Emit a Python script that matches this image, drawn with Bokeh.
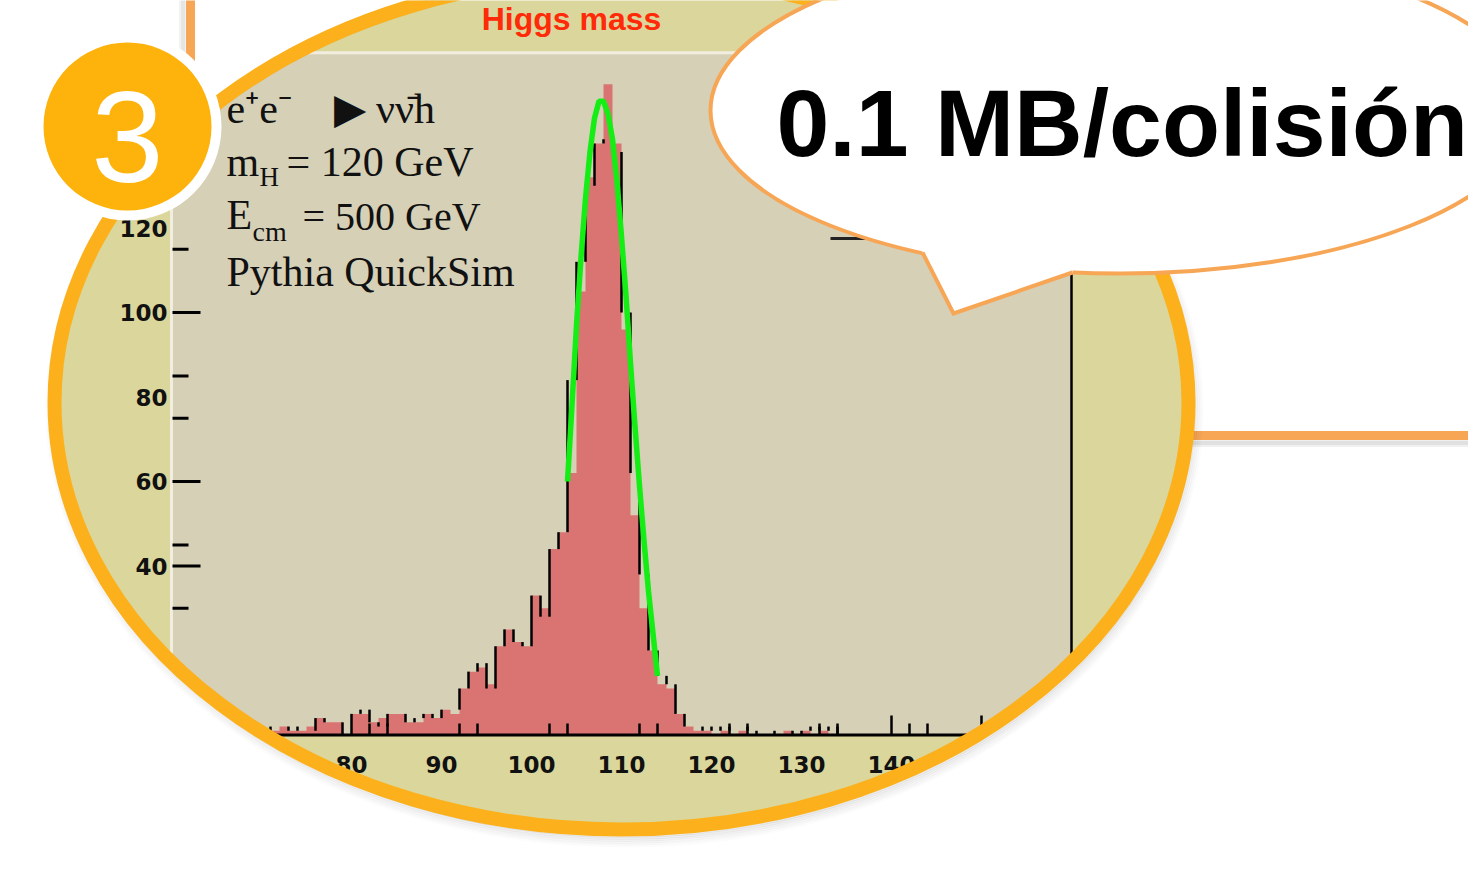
import numpy as np
from bokeh.plotting import figure
from bokeh.models import Range1d
from bokeh.core.properties import value
from bokeh.embed import file_html
from bokeh.resources import INLINE

# ---------------- data ----------------
bin_low = list(range(60, 160))          # 1 GeV bins, lower edges
red_counts = [0, 0, 1, 0, 1, 0, 1, 1, 0, 1,
              1, 1, 2, 1, 1, 2, 4, 3, 3, 0,
              5, 5, 3, 4, 5, 5, 3, 3, 5, 4,
              6, 5, 11, 15, 16, 12, 21, 25, 22, 21,
              33, 30, 44, 48, 62, 105, 132, 140, 154, 140,
              96, 52, 30, 20, 12, 11, 5, 2, 1, 1,
              0, 1, 0, 1, 0, 0, 0, 0, 1, 0,
              1, 0, 1, 0, 0, 0, 0, 0, 0, 0,
              0, 0, 0, 0, 0, 0, 0, 0, 0, 0,
              0, 0, 0, 0, 0, 0, 0, 0, 0, 0]
black_counts = [0, 1, 0, 1, 0, 1, 0, 1, 1, 0,
                2, 1, 1, 2, 1, 1, 4, 3, 3, 0,
                5, 6, 3, 2, 5, 5, 3, 4, 5, 4,
                6, 6, 11, 15, 17, 11, 21, 25, 22, 21,
                33, 28, 44, 48, 84, 112, 130, 140, 141, 138,
                100, 62, 38, 20, 14, 12, 5, 2, 2, 1,
                2, 1, 2, 2, 1, 0, 0, 1, 1, 0,
                1, 2, 1, 2, 0, 0, 0, 0, 0, 0,
                0, 0, 0, 0, 0, 0, 0, 0, 0, 0,
                0, 0, 0, 0, 0, 0, 0, 0, 0, 0]
fit_mass = [104.0, 104.5, 105.0, 105.5, 106.0, 106.5, 107.0, 107.5, 108.0, 108.5,
            109.0, 109.5, 110.0, 110.5, 111.0, 111.5, 112.0, 112.5, 113.0, 113.5, 114.0]
fit_counts = [60, 78, 97, 113, 127, 138, 146, 150, 150, 147,
              141, 131, 118, 104, 88, 73, 59, 46, 34, 24, 14]

x_label_values = [80, 90, 100, 110, 120, 130, 140]
y_label_values = [40, 60, 80, 100, 120]
y_major_ticks = [40, 60, 100]
y_minor_ticks = [30, 45, 75, 85, 115]
x_minor_ticks = [82, 84, 92, 94, 102, 104, 112, 114, 122, 124, 132, 134, 142, 144]
x_major_ticks = [140, 150]
frame_mass = (60, 160)
frame_count = (0, 161.5)

title_text = "Higgs mass"
legend_texts = ["e⁺e⁻", "▶ νν̄h", "m", "H", "= 120 GeV", "E", "cm", "= 500 GeV", "Pythia  QuickSim"]
bubble_text = "0.1 MB/colisión"
badge_text = "3"

# ---------------- colours ----------------
CANVAS = "#DBD69B"
FRAME = "#D6D0B7"
RED = "#D97472"
GREEN = "#14EE14"
RING = "#FCB11C"
OUTLINE = "#F7A656"
BADGE = "#FDB20C"

# ---------------- figure in picture-pixel coordinates ----------------
W, HH = 1468, 870
p = figure(width=W, height=HH, x_range=Range1d(0, W), y_range=Range1d(HH, 0),
           x_axis_type=None, y_axis_type=None, toolbar_location=None,
           output_backend="svg", min_border=0, outline_line_color=None,
           background_fill_color="white", border_fill_color="white")
p.grid.visible = False

# calibration of the histogram inside the lens
PX100, PXGEV = 531.0, 9.0       # pixel of m=100 GeV, pixels per GeV
PY0, PYCNT = 734.5, 4.225       # pixel of count 0, pixels per count
def mass_at(px): return 100 + (px - PX100) / PXGEV
def cnt_at(py): return (PY0 - py) / PYCNT
p.extra_x_ranges = {"mass": Range1d(mass_at(0), mass_at(W))}
p.extra_y_ranges = {"cnt": Range1d(cnt_at(HH), cnt_at(0))}
H = dict(x_range_name="mass", y_range_name="cnt")

def mid(baseline, size):
    # y of the 'middle' text anchor for a wanted alphabetic baseline
    return baseline - 0.31 * size

# lens geometry
EX, EY, EA, EB, EW = 621, 402, 574, 434, 14

# lens fill (ROOT canvas colour)
p.ellipse(x=EX, y=EY, width=2 * EA, height=2 * EB, fill_color=CANVAS, line_color=None)

# title
p.text(x=[571], y=[mid(28, 32)], text=[title_text], text_align="center", text_baseline="middle",
       text_font=value("Liberation Sans"), text_font_style="bold", text_font_size="32px",
       text_color="#FF2A08")

# frame
p.quad(left=[frame_mass[0]], right=[frame_mass[1]], bottom=[frame_count[0]], top=[frame_count[1]],
       fill_color=FRAME, line_color=None, **H)
p.line([frame_mass[0], frame_mass[1]], [frame_count[1], frame_count[1]], line_color="#F1EDDF", line_width=3, **H)
p.line([frame_mass[0], frame_mass[0]], [frame_count[0], frame_count[1]], line_color="#F1EDDF", line_width=3, **H)

# histogram (filled) as one stepped area
edges = bin_low + [bin_low[-1] + 1]
p.varea_step(x=edges, y1=[0] * len(edges), y2=red_counts + [0], step_mode="after",
             fill_color=RED, **H)
# outline histogram: its vertical edges
prev = [0] + black_counts
nxt = black_counts + [0]
sx, s0, s1 = [], [], []
for e, a, b in zip(edges, prev, nxt):
    if a != b:
        sx.append(e); s0.append(a); s1.append(b)
p.segment(x0=sx, y0=s0, x1=sx, y1=s1, line_color="black", line_width=2.5, **H)

# fit
p.line(fit_mass, fit_counts, line_color=GREEN, line_width=5.5, **H)

# axes lines
p.line([frame_mass[0], frame_mass[1]], [0, 0], line_color="black", line_width=3, **H)
p.line([frame_mass[1], frame_mass[1]], [frame_count[0], frame_count[1]], line_color="black", line_width=2.5, **H)

# y ticks (x in pixels, y in counts)
p.segment(x0=[172] * len(y_major_ticks), y0=y_major_ticks, x1=[200] * len(y_major_ticks), y1=y_major_ticks,
          line_color="black", line_width=3, y_range_name="cnt")
p.segment(x0=[172] * len(y_minor_ticks), y0=y_minor_ticks, x1=[188] * len(y_minor_ticks), y1=y_minor_ticks,
          line_color="black", line_width=3, y_range_name="cnt")
# x ticks (x in mass, y in pixels)
p.segment(x0=x_minor_ticks, y0=[735] * len(x_minor_ticks), x1=x_minor_ticks, y1=[723] * len(x_minor_ticks),
          line_color="black", line_width=2.5, x_range_name="mass")
p.segment(x0=x_major_ticks, y0=[735] * len(x_major_ticks), x1=x_major_ticks, y1=[715] * len(x_major_ticks),
          line_color="black", line_width=2.5, x_range_name="mass")

# tick labels
p.text(x=[167] * len(y_label_values), y=y_label_values, text=[str(v) for v in y_label_values],
       text_align="right", text_baseline="middle", text_font=value("DejaVu Sans"),
       text_font_style="bold", text_font_size="23px", text_color="#111111", y_range_name="cnt")
p.text(x=x_label_values, y=[764] * len(x_label_values), text=[str(v) for v in x_label_values],
       text_align="center", text_baseline="middle", text_font=value("DejaVu Sans"),
       text_font_style="bold", text_font_size="23px", text_color="#111111", x_range_name="mass")

# legend texts inside the frame
serif = value("Liberation Serif")
lx = [226, 333, 226, 259, 286, 226, 252, 302, 226]
lb = [122, 122, 175, 185, 175, 228, 240, 228, 285]
lsz = [42, 42, 42, 27, 42, 42, 28, 40, 42]
for t, x, b, s in zip(legend_texts, lx, lb, lsz):
    p.text(x=[x], y=[mid(b, s)], text=[t], text_align="left", text_baseline="middle",
           text_font=serif, text_font_size=f"{s}px", text_color="#111111")

# hidden stats box edge under the bubble
p.line([830, 930], [238, 238], line_color="#222222", line_width=3)

# white mask outside the lens
t = np.linspace(0, 2 * np.pi, 720, endpoint=False)
hx = list(EX + (EA - 5) * np.cos(t))
hy = list(EY - (EB - 5) * np.sin(t))
p.multi_polygons(xs=[[[[-20, 1500, 1500, -20], hx]]], ys=[[[[-40, -40, 900, 900], hy]]],
                 fill_color="white", line_color=None)

# callout box edges behind the lens (with soft shadow)
for dx, w, a in [(-7, 4, 0.10), (-10, 3, 0.05)]:
    p.line([190 + dx, 190 + dx], [-20, 112], line_color="black", line_width=w, line_alpha=a)
for dy, w, a in [(7, 4, 0.12), (10, 3, 0.06)]:
    p.line([1180, 1500], [435 + dy, 435 + dy], line_color="black", line_width=w, line_alpha=a)
p.line([190, 190], [-20, 115], line_color=OUTLINE, line_width=9)
p.line([1180, 1500], [435, 435], line_color=OUTLINE, line_width=9)

# lens shadow
for i in range(6):
    p.ellipse(x=EX + 3, y=EY + 6, width=2 * (EA - 6 + 2 * i), height=2 * (EB - 6 + 2 * i),
              fill_color=None, line_color="black", line_width=2.5, line_alpha=0.08 * (1 - i / 6))
# lens ring
p.ellipse(x=EX, y=EY, width=2 * (EA - EW / 2), height=2 * (EB - EW / 2),
          fill_color=None, line_color=RING, line_width=EW)

# speech bubble
p.ellipse(x=1120, y=110, width=820, height=326, fill_color="white", line_color=OUTLINE, line_width=4)
p.patch([922, 953, 1072, 1072, 922], [252, 313, 272, 264, 244], fill_color="white", line_color=None)
p.line([922, 953, 1072], [252, 313, 272], line_color=OUTLINE, line_width=4, line_join="miter")
p.text(x=[776], y=[mid(152, 95)], text=[bubble_text], text_align="left", text_baseline="middle",
       text_font=value("Liberation Sans"), text_font_style="bold", text_font_size="95px",
       text_color="black")

# numbered badge
p.circle(x=[127], y=[126], radius=94, fill_color="white", line_color=None)
p.circle(x=[127], y=[126], radius=84, fill_color=BADGE, line_color=None)
p.text(x=[127], y=[mid(177, 130)], text=[badge_text], text_align="center", text_baseline="middle",
       text_font=value("Liberation Sans"), text_font_size="130px", text_color="white")

open("out.html", "w").write(file_html(p, INLINE))
